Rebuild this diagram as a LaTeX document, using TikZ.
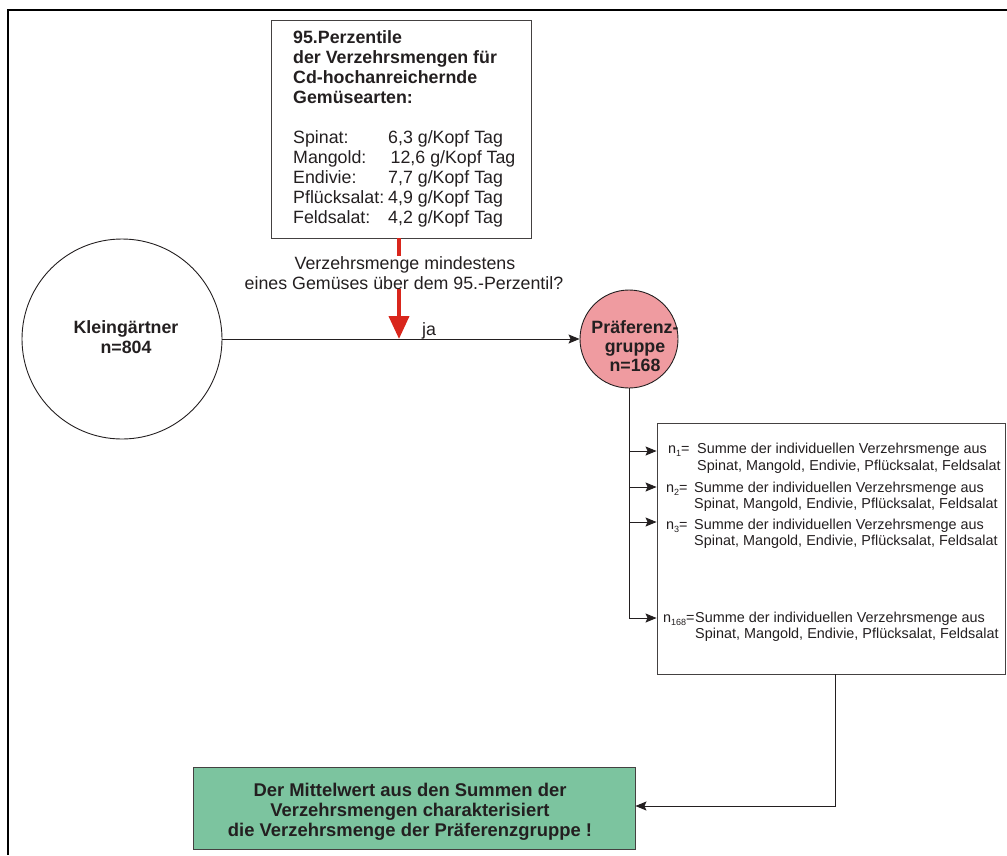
\documentclass[tikz,border=0pt]{standalone}
\usepackage{fontspec}
\setmainfont{Liberation Sans}
\usetikzlibrary{arrows.meta}
\definecolor{pinkfill}{HTML}{EF9BA0}
\definecolor{greenfill}{HTML}{7CC49F}
\definecolor{redarrow}{HTML}{D9261C}
\definecolor{ink}{HTML}{231F20}
\newcommand{\nsub}[1]{\raisebox{-3.5pt}{\fontsize{9}{9}\selectfont #1}}
\begin{document}
\begin{tikzpicture}[x=1pt,y=-1pt,
  txt/.style={inner sep=0pt, anchor=base west, text=ink, font=\fontsize{17.8}{20}\selectfont},
  btxt/.style={txt, font=\fontsize{17.8}{20}\selectfont\bfseries},
  ctxt/.style={txt, anchor=base},
  cbtxt/.style={btxt, anchor=base},
  gtxt/.style={txt, anchor=base, font=\fontsize{18.4}{20}\selectfont\bfseries},
  stxt/.style={txt, font=\fontsize{14.4}{17}\selectfont},
  box/.style={draw=ink!85, line width=0.9pt, inner sep=0pt},
  conn/.style={draw=ink, line width=0.9pt},
  arr/.style={conn, -{Stealth[length=11pt,width=9pt,inset=2pt]}},
  redline/.style={draw=redarrow, line width=4pt},
  redarr/.style={redline, -{Triangle[length=23pt,width=20pt]}},
  frame/.style={draw=black, line width=2.6pt}
]
\useasboundingbox (0,0) rectangle (1007,855);

% outer frame
\draw[frame] (1007,10) -- (8,10) -- (8,855);

% top box
\node[box, minimum width=260pt, minimum height=218pt] (topbox) at (401,129) {};
\node[btxt] (t1) at (293,43) {95.Perzentile};
\node[btxt] (t2) at (293,63) {der Verzehrsmengen für};
\node[btxt] (t3) at (293,83) {Cd-hochanreichernde};
\node[btxt] (t4) at (293,103) {Gemüsearten:};
\node[txt] (s1) at (293,143) {\makebox[95pt][l]{Spinat:}6,3 g/Kopf Tag};
\node[txt] (s2) at (293,163) {\makebox[97.5pt][l]{Mangold:}12,6 g/Kopf Tag};
\node[txt] (s3) at (293,183) {\makebox[95pt][l]{Endivie:}7,7 g/Kopf Tag};
\node[txt] (s4) at (293,203) {\makebox[95pt][l]{Pflücksalat:}4,9 g/Kopf Tag};
\node[txt] (s5) at (293,223) {\makebox[95pt][l]{Feldsalat:}4,2 g/Kopf Tag};

% question
\node[ctxt] (q1) at (405,269) {Verzehrsmenge mindestens};
\node[ctxt] (q2) at (404,289) {eines Gemüses über dem 95.-Perzentil?};

% Kleingaertner
\node[circle, draw=ink, line width=0.9pt, minimum size=200pt, inner sep=0pt] (klein) at (122,339) {};
\node[cbtxt] (k1) at (126,333) {Kleingärtner};
\node[cbtxt] (k2) at (126,353) {n=804};

% Praeferenzgruppe
\node[circle, draw=ink, line width=0.9pt, fill=pinkfill, minimum size=98pt, inner sep=0pt] (pg) at (629,339) {};
\node[cbtxt] (p1) at (635,333) {Präferenz-};
\node[cbtxt] (p2) at (635,352) {gruppe};
\node[cbtxt] (p3) at (635,371) {n=168};

% main horizontal arrow
\draw[arr] (klein.east) -- (pg.west);
\node[txt] (ja) at (422,335) {ja};

% red arrow
\coordinate (rx) at (399,0);
\draw[redline] (rx |- topbox.south) -- (rx |- q1.north);
\draw[redarr] (rx |- q2.south) -- (rx |- klein.east);

% right box
\node[box, minimum width=348pt, minimum height=251pt] (rbox) at (831,548.5) {};
\node[stxt] (e1a) at (668,453) {\makebox[29pt][l]{n\nsub{1}=}Summe der individuellen Verzehrsmenge aus};
\node[stxt] (e1b) at (697,470) {Spinat, Mangold, Endivie, Pflücksalat, Feldsalat};
\node[stxt] (e2a) at (666,492) {\makebox[28pt][l]{n\nsub{2}=}Summe der individuellen Verzehrsmenge aus};
\node[stxt] (e2b) at (694,508) {Spinat, Mangold, Endivie, Pflücksalat, Feldsalat};
\node[stxt] (e3a) at (666,529) {\makebox[28pt][l]{n\nsub{3}=}Summe der individuellen Verzehrsmenge aus};
\node[stxt] (e3b) at (694,545) {Spinat, Mangold, Endivie, Pflücksalat, Feldsalat};
\node[stxt] (e4a) at (663,622) {\makebox[32pt][l]{n\nsub{168}=}Summe der individuellen Verzehrsmenge aus};
\node[stxt] (e4b) at (695,638) {Spinat, Mangold, Endivie, Pflücksalat, Feldsalat};

% branches
\coordinate (b1) at (629,451);
\coordinate (b2) at (629,487);
\coordinate (b3) at (629,522);
\coordinate (b4) at (629,618);
\draw[conn] (pg.south) -- (b4);
\draw[arr] (b1) -- (b1 -| rbox.west);
\draw[arr] (b2) -- (b2 -| rbox.west);
\draw[arr] (b3) -- (b3 -| rbox.west);
\draw[arr] (b4) -- (b4 -| rbox.west);

% green box
\node[box, fill=greenfill, minimum width=442pt, minimum height=82pt] (gbox) at (414,808) {};
\node[gtxt] (g1) at (410,796) {Der Mittelwert aus den Summen der};
\node[gtxt] (g2) at (410,816) {Verzehrsmengen charakterisiert};
\node[gtxt] (g3) at (410,836) {die Verzehrsmenge der Präferenzgruppe !};

% bottom connector
\coordinate (bend) at (835,806);
\draw[arr] (rbox.south -| bend) -- (bend) -- (bend -| gbox.east);
\end{tikzpicture}
\end{document}
